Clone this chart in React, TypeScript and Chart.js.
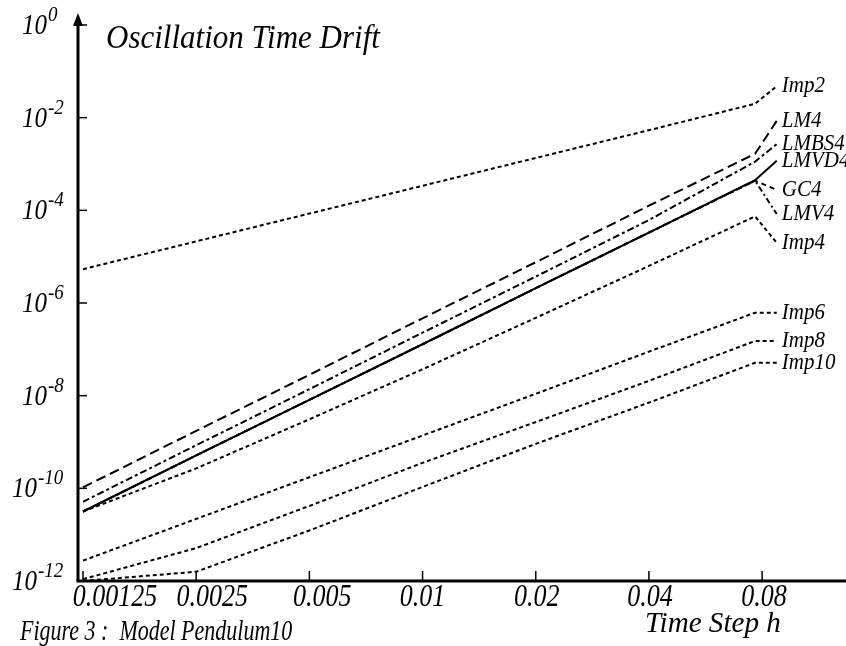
import React, { useEffect, useRef } from "react";
import { Chart, registerables } from "chart.js";

Chart.register(...registerables);

// Time step values (last point is the final computed step, leaderH is where the label leader ends)
const stepH = [0.00125, 0.0025, 0.005, 0.01, 0.02, 0.04, 0.0766];
const leaderH = 0.0875;

// Axis ticks
const xTickValues = [0.00125, 0.0025, 0.005, 0.01, 0.02, 0.04, 0.08];
const xTickLabels = ["0.00125", "0.0025", "0.005", "0.01", "0.02", "0.04", "0.08"];
const yTickExponents = [0, -2, -4, -6, -8, -10, -12];

// log10 of the oscillation time drift for each method, at stepH
const imp2Log = [-5.27, -4.67, -4.07, -3.47, -2.87, -2.27, -1.7];
const lm4Log = [-9.98, -8.76, -7.55, -6.33, -5.12, -3.9, -2.78];
const lmbs4Log = [-10.29, -9.07, -7.86, -6.64, -5.43, -4.21, -2.95];
const lmvd4Log = [-10.5, -9.29, -8.09, -6.89, -5.68, -4.48, -3.35];
const gc4Log = [-10.5, -9.29, -8.09, -6.89, -5.68, -4.48, -3.36];
const lmv4Log = [-10.5, -9.29, -8.09, -6.89, -5.68, -4.48, -3.36];
const imp4Log = [-10.5, -9.57, -8.51, -7.43, -6.32, -5.2, -4.13];
const imp6Log = [-11.56, -10.66, -9.76, -8.86, -7.96, -7.05, -6.21];
const imp8Log = [-11.96, -11.29, -10.38, -9.45, -8.57, -7.68, -6.82];
const imp10Log = [-12.0, -11.8, -10.91, -9.97, -9.04, -8.15, -7.29];

// label names and where each label leader ends (log10)
const seriesNames = ["Imp2", "LM4", "LMBS4", "LMVD4", "GC4", "LMV4", "Imp4", "Imp6", "Imp8", "Imp10"];
const leaderLog = [-1.32, -2.07, -2.57, -2.93, -3.56, -4.08, -4.7, -6.21, -6.82, -7.29];

const seriesLogs = [imp2Log, lm4Log, lmbs4Log, lmvd4Log, gc4Log, lmv4Log, imp4Log, imp6Log, imp8Log, imp10Log];
const seriesDash: number[][] = [
  [4, 3],
  [10, 5],
  [7, 3, 3, 3],
  [],
  [5, 4],
  [6, 3, 2, 3],
  [4, 3],
  [4, 3],
  [4, 3],
  [4, 3],
];

// style: horizontal nudges of the x tick labels (px)
const xLabelNudge = [32, 16, 13, 0, 1, 1, 2];

const FONT = '"Liberation Serif", "Times New Roman", serif';

function drawText(
  ctx: CanvasRenderingContext2D,
  text: string,
  x: number,
  y: number,
  size: number,
  sx = 1,
  sy = 1
) {
  ctx.save();
  ctx.translate(x, y);
  ctx.scale(sx, sy);
  ctx.font = `italic ${size}px ${FONT}`;
  ctx.fillText(text, 0, 0);
  ctx.restore();
}

export default function App() {
  const ref = useRef<HTMLCanvasElement | null>(null);

  useEffect(() => {
    const canvas = ref.current;
    if (!canvas) return;

    const datasets = seriesNames.map((name, i) => {
      const logs = seriesLogs[i];
      const pts = stepH.map((h, k) => ({ x: h, y: Math.pow(10, logs[k]) }));
      pts.push({ x: leaderH, y: Math.pow(10, leaderLog[i]) });
      return {
        label: name,
        data: pts,
        borderColor: "#000",
        borderWidth: 2,
        borderDash: seriesDash[i],
        pointRadius: 0,
        fill: false,
        tension: 0,
        clip: false as any,
      };
    });

    const decor = {
      id: "decor",
      beforeDatasetsDraw(chart: any) {
        const ctx = chart.ctx as CanvasRenderingContext2D;
        const xs = chart.scales.x;
        const ys = chart.scales.y;
        const x0 = xs.left;
        const yb = ys.bottom;
        ctx.save();
        ctx.strokeStyle = "#000";
        ctx.fillStyle = "#000";
        ctx.lineWidth = 3;
        ctx.beginPath();
        ctx.moveTo(x0 - 1.5, yb);
        ctx.lineTo(chart.width, yb);
        ctx.stroke();
        ctx.beginPath();
        ctx.moveTo(x0, yb);
        ctx.lineTo(x0, 22);
        ctx.stroke();
        ctx.beginPath();
        ctx.moveTo(x0, 13);
        ctx.lineTo(x0 - 5, 26);
        ctx.lineTo(x0 + 5, 26);
        ctx.closePath();
        ctx.fill();
        ctx.lineWidth = 1.5;
        yTickExponents.forEach((e) => {
          const y = ys.getPixelForValue(Math.pow(10, e));
          ctx.beginPath();
          ctx.moveTo(x0, y);
          ctx.lineTo(x0 + 9, y);
          ctx.stroke();
        });
        xTickValues.forEach((v) => {
          const x = xs.getPixelForValue(v);
          ctx.beginPath();
          ctx.moveTo(x, yb);
          ctx.lineTo(x, yb - 10);
          ctx.stroke();
        });
        ctx.restore();
      },
      afterDraw(chart: any) {
        const ctx = chart.ctx as CanvasRenderingContext2D;
        const xs = chart.scales.x;
        const ys = chart.scales.y;
        ctx.save();
        ctx.fillStyle = "#000";
        ctx.textBaseline = "alphabetic";

        // y tick labels 10^e
        yTickExponents.forEach((e) => {
          const y = ys.getPixelForValue(Math.pow(10, e));
          const exp = e === 0 ? "0" : "-" + Math.abs(e);
          const startX = exp.length > 2 ? 12 : 22;
          ctx.textAlign = "left";
          drawText(ctx, "10", startX, y + 9, 25, 1, 1.15);
          ctx.font = `italic 25px ${FONT}`;
          const w = ctx.measureText("10").width;
          drawText(ctx, exp, startX + w + 1, y - 4, 19, 1, 1.15);
        });

        // x tick labels
        ctx.textAlign = "center";
        xTickValues.forEach((v, i) => {
          const x = xs.getPixelForValue(v) + xLabelNudge[i];
          drawText(ctx, xTickLabels[i], x, 606, 26, 1, 1.2);
        });

        // series labels
        ctx.textAlign = "left";
        ctx.textBaseline = "middle";
        seriesNames.forEach((n, i) => {
          const x = xs.getPixelForValue(leaderH) + 5;
          const y = ys.getPixelForValue(Math.pow(10, leaderLog[i]));
          drawText(ctx, n, x, y, 21, 1, 1.1);
        });

        // title and captions
        ctx.textBaseline = "alphabetic";
        drawText(ctx, "Oscillation Time Drift", 106, 48, 31, 1, 1.1);
        drawText(ctx, "Time Step h", 645, 632, 30, 0.97, 1.0);
        drawText(ctx, "Figure 3 :  Model Pendulum10", 20, 640, 22, 1, 1.3);
        ctx.restore();
      },
    };

    const xMin = 0.00125 / Math.pow(10, 5 / 376);
    const xMax = xMin * Math.pow(10, 768 / 376);

    const chart = new Chart(canvas, {
      type: "line",
      data: { datasets: datasets as any },
      options: {
        animation: false,
        responsive: false,
        events: [],
        layout: { padding: { left: 78, right: 0, top: 25, bottom: 65 } },
        plugins: { legend: { display: false }, tooltip: { enabled: false } },
        scales: {
          x: { type: "logarithmic", min: xMin, max: xMax, display: false, bounds: "data" },
          y: { type: "logarithmic", min: 1e-12, max: 1, display: false, bounds: "data" },
        },
      },
      plugins: [decor],
    });
    return () => chart.destroy();
  }, []);

  return (
    <div style={{ position: "fixed", left: 0, top: 0, width: 846, height: 646, background: "#fff" }}>
      <canvas ref={ref} width={846} height={646} style={{ display: "block" }} />
    </div>
  );
}
